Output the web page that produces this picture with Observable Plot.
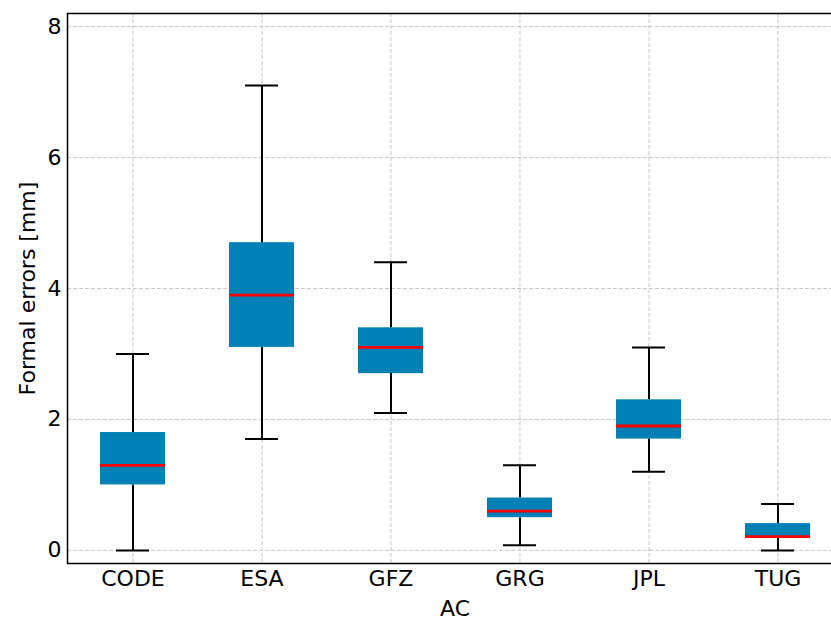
<!DOCTYPE html>
<html>
<head>
<meta charset="utf-8">
<script src="https://cdn.jsdelivr.net/npm/d3@7"></script>
<script src="https://cdn.jsdelivr.net/npm/@observablehq/plot@0.6"></script>
<style>
  html, body { margin: 0; padding: 0; background: #fff; overflow: hidden; }
</style>
</head>
<body>
<div id="chart"></div>
<script>
const categories = ["CODE", "ESA", "GFZ", "GRG", "JPL", "TUG"];
const whiskerLow  = [0.0, 1.7, 2.1, 0.08, 1.2, 0.0];
const q1          = [1.0, 3.1, 2.7, 0.5, 1.7, 0.19];
const median      = [1.3, 3.9, 3.1, 0.6, 1.9, 0.21];
const q3          = [1.8, 4.7, 3.4, 0.8, 2.3, 0.41];
const whiskerHigh = [3.0, 7.1, 4.4, 1.3, 3.1, 0.71];
const yTicks = [0, 2, 4, 6, 8];

const data = categories.map((c, i) => ({
  ac: c, lo: whiskerLow[i], q1: q1[i], med: median[i], q3: q3[i], hi: whiskerHigh[i]
}));

const boxColor = "#0081b6";
const gridStyle = {stroke: "#b8b8b8", strokeOpacity: 0.8, strokeDasharray: "4,2", strokeWidth: 1};

const chart = Plot.plot({
  width: 831,
  height: 619,
  marginLeft: 67,
  marginRight: -11,
  marginTop: 13,
  marginBottom: 56,
  style: {fontFamily: "'DejaVu Sans', sans-serif", fontSize: "22px", background: "#fff", color: "#000"},
  x: {type: "band", domain: categories, paddingInner: 0.5, paddingOuter: 0.25},
  y: {domain: [-0.2, 8.2]},
  marks: [
    Plot.gridY(yTicks, gridStyle),
    Plot.gridX(categories, gridStyle),
    Plot.ruleX(data, {x: "ac", y1: "lo", y2: "q1", stroke: "#000", strokeWidth: 2}),
    Plot.ruleX(data, {x: "ac", y1: "q3", y2: "hi", stroke: "#000", strokeWidth: 2}),
    Plot.tickY(data, {x: "ac", y: "lo", stroke: "#000", strokeWidth: 2, insetLeft: 16, insetRight: 16}),
    Plot.tickY(data, {x: "ac", y: "hi", stroke: "#000", strokeWidth: 2, insetLeft: 16, insetRight: 16}),
    Plot.barY(data, {x: "ac", y1: "q1", y2: "q3", fill: boxColor}),
    Plot.tickY(data, {x: "ac", y: "med", stroke: "#ff0000", strokeWidth: 2.8}),
    Plot.axisY(yTicks, {tickSize: 0, tickPadding: 6, fontSize: 22, tickFormat: "d", label: "Formal errors [mm]", labelAnchor: "center", labelArrow: "none", labelOffset: 48}),
    Plot.axisX({tickSize: 0, tickPadding: 7, fontSize: 22, label: "AC", labelAnchor: "center", labelArrow: "none", labelOffset: 52}),
    Plot.frame({stroke: "#000", strokeWidth: 1.5})
  ]
});
document.getElementById("chart").appendChild(chart);
</script>
</body>
</html>
